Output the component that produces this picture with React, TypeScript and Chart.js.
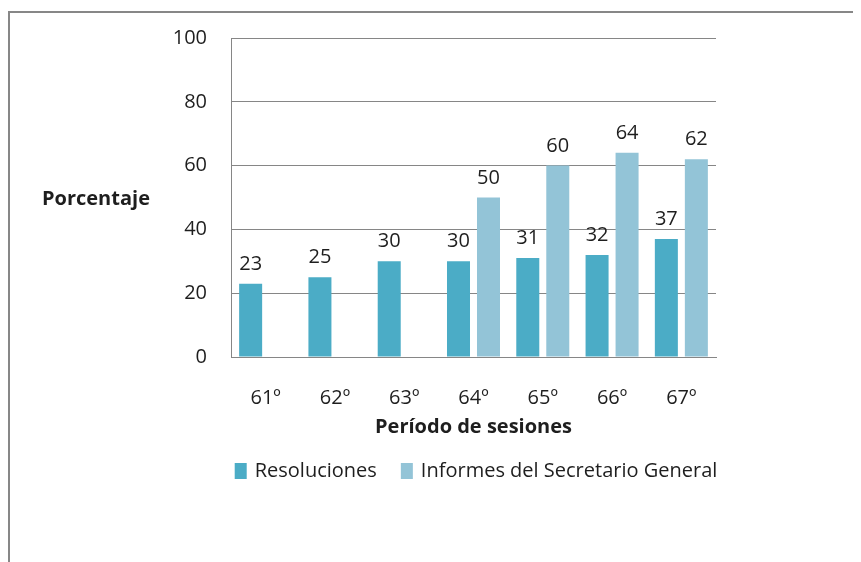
import React, { useEffect, useRef } from "react";
import { Chart, registerables } from "chart.js";

Chart.register(...registerables);

const categories = ["61º", "62º", "63º", "64º", "65º", "66º", "67º"];
const resoluciones = [23, 25, 30, 30, 31, 32, 37];
const informes = [null, null, null, 50, 60, 64, 62];
const yTicks = [0, 20, 40, 60, 80, 100];
const seriesNames = ["Resoluciones", "Informes del Secretario General"];
const seriesColors = ["#4BACC6", "#93C4D7"];

const FONT = "'Open Sans', 'Noto Sans', sans-serif";
const TEXT = "#1e1e1e";
const GRID = "#868686";

const framePlugin = {
  id: "frame",
  beforeDraw(chart: any) {
    const ctx = chart.ctx;
    ctx.save();
    ctx.fillStyle = "#ffffff";
    ctx.fillRect(0, 0, chart.width, chart.height);
    ctx.strokeStyle = "#878787";
    ctx.lineWidth = 2;
    ctx.beginPath();
    ctx.moveTo(1, chart.height);
    ctx.lineTo(1, 4);
    ctx.lineTo(chart.width, 4);
    ctx.stroke();
    ctx.restore();
  },
};

const yTitlePlugin = {
  id: "yTitle",
  afterDraw(chart: any) {
    const ctx = chart.ctx;
    ctx.save();
    ctx.font = `bold 20px ${FONT}`;
    ctx.fillStyle = TEXT;
    ctx.textAlign = "left";
    ctx.textBaseline = "middle";
    ctx.fillText("Porcentaje", 34, 191);
    ctx.restore();
  },
};

const legendPlugin = {
  id: "customLegend",
  afterDraw(chart: any) {
    const ctx = chart.ctx;
    ctx.save();
    ctx.font = `20px ${FONT}`;
    ctx.textBaseline = "middle";
    ctx.textAlign = "left";
    const box = 12;
    const boxH = 16;
    const boxGap = 8;
    const itemGap = 24;
    const widths = seriesNames.map((n) => ctx.measureText(n).width);
    const total = widths.reduce((a, w) => a + box + boxGap + w, 0) + itemGap * (seriesNames.length - 1);
    const cx = 468;
    const cy = 463;
    let x = cx - total / 2;
    seriesNames.forEach((n, i) => {
      ctx.fillStyle = seriesColors[i];
      ctx.fillRect(x, cy - boxH / 2, box, boxH);
      x += box + boxGap;
      ctx.fillStyle = TEXT;
      ctx.fillText(n, x, cy);
      x += widths[i] + itemGap;
    });
    ctx.restore();
  },
};

const labelsPlugin = {
  id: "valueLabels",
  afterDatasetsDraw(chart: any) {
    const ctx = chart.ctx;
    ctx.save();
    ctx.font = `20px ${FONT}`;
    ctx.fillStyle = TEXT;
    ctx.textAlign = "center";
    ctx.textBaseline = "alphabetic";
    chart.data.datasets.forEach((ds: any, i: number) => {
      const meta = chart.getDatasetMeta(i);
      meta.data.forEach((bar: any, j: number) => {
        const v = ds.data[j];
        if (v === null || v === undefined) return;
        ctx.fillText(String(v), bar.x, bar.y - 14);
      });
    });
    ctx.restore();
  },
};

export default function App() {
  const ref = useRef<HTMLCanvasElement>(null);
  useEffect(() => {
    if (!ref.current) return;
    const chart = new Chart(ref.current, {
      type: "bar",
      data: {
        labels: categories,
        datasets: [
          {
            label: seriesNames[0],
            data: resoluciones,
            backgroundColor: seriesColors[0],
            categoryPercentage: 0.866,
            barPercentage: 0.767,
          },
          {
            label: seriesNames[1],
            data: informes,
            backgroundColor: seriesColors[1],
            categoryPercentage: 0.866,
            barPercentage: 0.767,
          },
        ],
      },
      options: {
        responsive: false,
        animation: false,
        layout: { padding: { left: 0, right: 145, top: 30, bottom: 119 } },
        plugins: {
          tooltip: { enabled: false },
          legend: { display: false },
        },
        scales: {
          x: {
            grid: { display: false, drawTicks: false },
            border: { display: true, color: GRID, width: 1 },
            ticks: { color: TEXT, font: { family: FONT, size: 20 }, padding: 29 },
            title: {
              display: true,
              text: "Período de sesiones",
              color: TEXT,
              font: { family: FONT, size: 20, weight: "bold" },
              padding: { top: 0, bottom: 4 },
            },
            afterFit(scale: any) {
              scale.height = 86;
              scale.paddingTop = 0;
              scale.paddingBottom = 0;
            },
          },
          y: {
            min: 0,
            max: 100,
            afterBuildTicks(scale: any) {
              scale.ticks = yTicks.map((v) => ({ value: v }));
            },
            grid: { color: GRID, lineWidth: 1, drawTicks: false },
            border: { display: true, color: GRID, width: 1 },
            ticks: { color: TEXT, font: { family: FONT, size: 20 }, padding: 24 },
            afterFit(scale: any) {
              scale.width = 223;
              scale.paddingTop = 0;
              scale.paddingBottom = 0;
            },
          },
        },
      },
      plugins: [framePlugin, yTitlePlugin, labelsPlugin, legendPlugin],
    } as any);
    return () => chart.destroy();
  }, []);
  return <canvas ref={ref} width={853} height={554} style={{ display: "block" }} />;
}
